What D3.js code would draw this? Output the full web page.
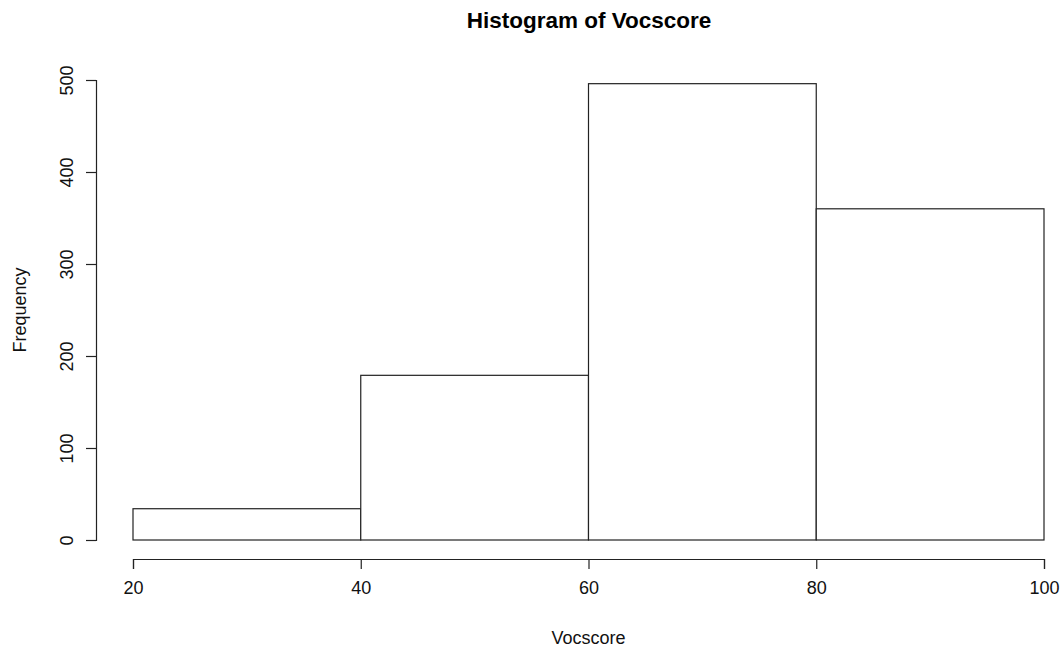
<!DOCTYPE html>
<html>
<head>
<meta charset="utf-8">
<script src="https://cdnjs.cloudflare.com/ajax/libs/d3/7.8.5/d3.min.js"></script>
<style>
  body { margin: 0; background: #fff; }
  svg { display: block; font-family: "Liberation Sans", Arial, sans-serif; }
</style>
</head>
<body>
<svg></svg>
<script>
const width = 1063;
const height = 649;

// bin edges and counts
const binStarts = [20, 40, 60, 80];
const binEnds = [40, 60, 80, 100];
const counts = [34, 179, 496, 360];
const xTicks = [20, 40, 60, 80, 100];
const yTicks = [0, 100, 200, 300, 400, 500];

const title = "Histogram of Vocscore";
const xLabel = "Vocscore";
const yLabel = "Frequency";

let svg = d3.select("svg")
    .attr("width", width)
    .attr("height", height);

// scales
let scaleX = d3.scaleLinear()
    .domain([20, 100])
    .range([133, 1044]);

let scaleY = d3.scaleLinear()
    .domain([0, 500])
    .range([540, 80]);

const bins = binStarts.map((s, i) => ({ x0: s, x1: binEnds[i], n: counts[i] }));

// bars
svg.selectAll(".bar")
    .data(bins)
    .enter()
    .append("rect")
    .attr("class", "bar")
    .attr("x", d => scaleX(d.x0))
    .attr("y", d => scaleY(d.n))
    .attr("width", d => scaleX(d.x1) - scaleX(d.x0))
    .attr("height", d => scaleY(0) - scaleY(d.n))
    .style("fill", "#fff")
    .style("stroke", "#222")
    .style("stroke-width", 1.2);

// x axis (R style: detached below plot)
let axisX = d3.axisBottom(scaleX)
    .tickValues(xTicks)
    .tickSize(10)
    .tickPadding(12)
    .tickFormat(d3.format("d"));

let gx = svg.append("g")
    .attr("transform", "translate(0, 559)")
    .call(axisX);

// y axis
let axisY = d3.axisLeft(scaleY)
    .tickValues(yTicks)
    .tickSize(10)
    .tickFormat(d3.format("d"));

let gy = svg.append("g")
    .attr("transform", "translate(96, 0)")
    .call(axisY);

[gx, gy].forEach(g => {
    g.select(".domain").attr("stroke", "#222").attr("stroke-width", 1.2);
    g.selectAll(".tick line").attr("stroke", "#222").attr("stroke-width", 1.2);
    g.selectAll(".tick text")
        .attr("fill", "#111")
        .style("font-size", "18px")
        .style("font-family", "Liberation Sans, Arial, sans-serif");
});

// y tick labels rotated like R's default
gy.selectAll(".tick text")
    .attr("x", null)
    .attr("dy", null)
    .attr("text-anchor", "middle")
    .attr("transform", "translate(-29, 0) rotate(-90)")
    .attr("y", 0)
    .attr("dominant-baseline", "central");

// title
svg.append("text")
    .attr("x", 589)
    .attr("y", 28)
    .attr("text-anchor", "middle")
    .style("font-size", "22.5px")
    .style("font-weight", "bold")
    .attr("fill", "#000")
    .text(title);

// x label
svg.append("text")
    .attr("x", scaleX(60))
    .attr("y", 644)
    .attr("text-anchor", "middle")
    .style("font-size", "18px")
    .attr("fill", "#111")
    .text(xLabel);

// y label
svg.append("text")
    .attr("transform", `translate(26, ${scaleY(250)}) rotate(-90)`)
    .attr("text-anchor", "middle")
    .style("font-size", "18px")
    .attr("fill", "#111")
    .text(yLabel);
</script>
</body>
</html>
